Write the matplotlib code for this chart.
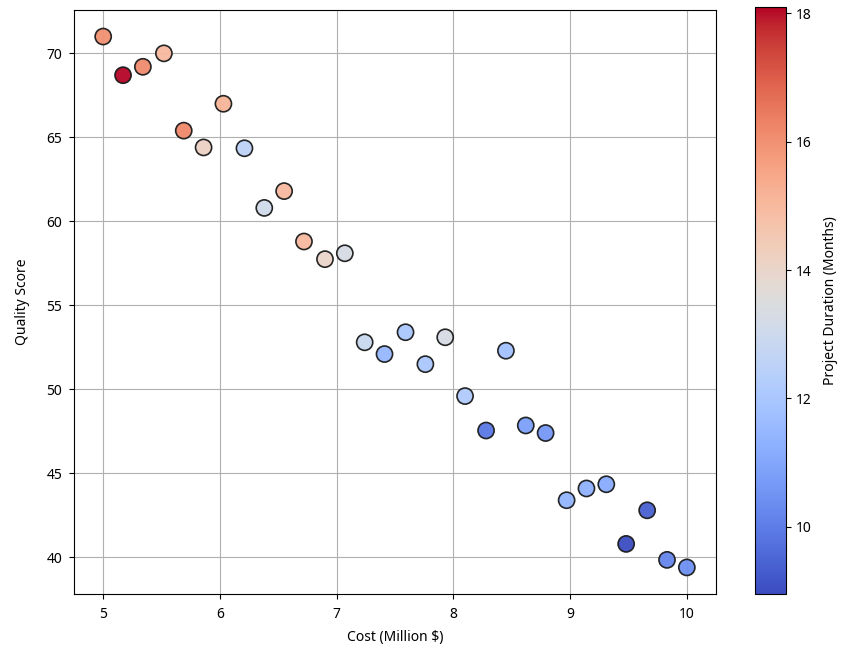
import matplotlib
matplotlib.use("Agg")
import matplotlib.pyplot as plt
import numpy as np

plt.rcParams['font.family'] = ['Noto Sans', 'DejaVu Sans']

cost = [5.00, 5.17, 5.34, 5.52, 5.69, 5.86, 6.03, 6.21, 6.38, 6.55,
        6.72, 6.90, 7.07, 7.24, 7.41, 7.59, 7.76, 7.93, 8.10, 8.28,
        8.45, 8.62, 8.79, 8.97, 9.14, 9.31, 9.48, 9.66, 9.83, 10.00]
quality = [71.0, 68.7, 69.2, 70.0, 65.4, 64.4, 67.0, 64.35, 60.8, 61.8,
           58.8, 57.75, 58.1, 52.8, 52.1, 53.4, 51.5, 53.1, 49.6, 47.55,
           52.3, 47.85, 47.4, 43.4, 44.1, 44.35, 40.8, 42.8, 39.85, 39.4]
duration = [16.0, 18.1, 16.1, 15.0, 16.2, 14.2, 15.1, 12.5, 13.1, 15.0,
            15.0, 14.0, 13.3, 12.9, 11.5, 12.0, 12.0, 13.3, 12.2, 9.9,
            11.8, 10.8, 10.6, 11.4, 11.3, 11.1, 8.95, 9.4, 10.2, 10.4]

fig = plt.figure(figsize=(8.42, 6.5), dpi=100)
ax = fig.add_axes([0.0879, 0.0862, 0.7625, 0.8984])
cax = fig.add_axes([0.8967, 0.0862, 0.0368, 0.9030])

sc = ax.scatter(cost, quality, c=duration, cmap='coolwarm', s=135,
                edgecolors='#1a1a1a', linewidths=1.2, alpha=0.95, zorder=3)
ax.grid(True, color='#b0b0b0', linewidth=0.8, zorder=0)
ax.tick_params(axis='x', pad=6)
ax.tick_params(axis='y', pad=5)
ax.set_xlabel('Cost (Million $)', labelpad=6)
ax.set_ylabel('Quality Score', labelpad=12)

cb = fig.colorbar(sc, cax=cax)
cb.solids.set_alpha(1)
cb.set_label('Project Duration (Months)', labelpad=8)

fig.savefig('out.png', dpi=100)
